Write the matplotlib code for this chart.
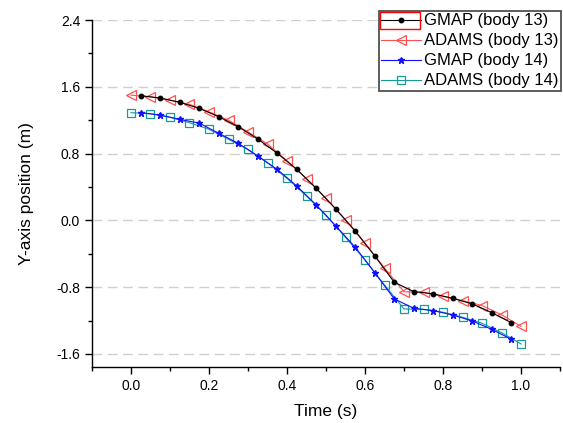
import numpy as np
import matplotlib
matplotlib.use('Agg')
import matplotlib.pyplot as plt
from matplotlib.patches import Rectangle
from matplotlib.ticker import MultipleLocator

plt.rcParams['font.family'] = ['Liberation Sans', 'DejaVu Sans']

# ADAMS samples every 0.05 s, GMAP samples offset by 0.025 s
t_adams = [0.0, 0.05, 0.1, 0.15, 0.2, 0.25, 0.3, 0.35, 0.4, 0.45, 0.5,
           0.55, 0.6, 0.65, 0.7, 0.75, 0.8, 0.85, 0.9, 0.95, 1.0]
t_gmap = [0.025, 0.075, 0.125, 0.175, 0.225, 0.275, 0.325, 0.375, 0.425,
          0.475, 0.525, 0.575, 0.625, 0.675, 0.725, 0.775, 0.825, 0.875,
          0.925, 0.975]

gmap_13 = [1.493, 1.466, 1.414, 1.342, 1.242, 1.122, 0.975, 0.804, 0.612,
           0.384, 0.137, -0.127, -0.426, -0.741, -0.853, -0.88, -0.934,
           -1.0, -1.105, -1.225]
adams_13 = [1.50, 1.48, 1.44, 1.39, 1.30, 1.20, 1.06, 0.915, 0.715, 0.50,
            0.265, 0.005, -0.275, -0.57, -0.855, -0.86, -0.91, -0.96,
            -1.02, -1.13, -1.27]
gmap_14 = [1.29, 1.262, 1.21, 1.165, 1.043, 0.923, 0.771, 0.61, 0.412,
           0.184, -0.067, -0.322, -0.627, -0.94, -1.053, -1.081, -1.133,
           -1.205, -1.305, -1.424]
adams_14 = [1.29, 1.278, 1.234, 1.17, 1.091, 0.971, 0.851, 0.691, 0.504,
            0.292, 0.064, -0.204, -0.474, -0.774, -1.061, -1.065, -1.10,
            -1.16, -1.232, -1.345, -1.48]

labels = ['GMAP (body 13)', 'ADAMS (body 13)', 'GMAP (body 14)',
          'ADAMS (body 14)']

red = '#ff5050'
teal = '#169a9a'

fig = plt.figure(figsize=(5.63, 4.23), dpi=100)
ax = fig.add_axes([0.1634, 0.1324, 0.8313, 0.8203])

ax.plot(t_gmap, gmap_13, '-', color='black', marker='o', ms=3.2, lw=0.8,
        label=labels[0], zorder=4)
ax.plot(t_adams, adams_13, '-', color=red, marker='<', ms=7, lw=0.8,
        mfc='none', mec=red, mew=0.9, label=labels[1], zorder=3)
ax.plot(t_gmap, gmap_14, '-', color='#1010ff', marker='*', ms=5, lw=0.8,
        label=labels[2], zorder=4)
ax.plot(t_adams, adams_14, '-', color=teal, marker='s', ms=5.5, lw=0.8,
        mfc='none', mec=teal, mew=0.9, label=labels[3], zorder=3)

ax.set_xlim(-0.1, 1.1)
ax.set_ylim(-1.756, 2.4)
ax.xaxis.set_minor_locator(MultipleLocator(0.1))
ax.yaxis.set_minor_locator(MultipleLocator(0.4))
ax.set_xticks(np.arange(0, 1.01, 0.2))
ax.set_xticklabels(['{:.1f}'.format(v) for v in np.arange(0, 1.01, 0.2)])
ax.set_yticks(np.arange(-1.6, 2.41, 0.8))
ax.set_yticklabels(['{:.1f}'.format(v) for v in np.arange(-1.6, 2.41, 0.8)])
ax.tick_params(which='major', direction='out', length=5, width=1,
               labelsize=10, color='black')
ax.tick_params(which='minor', direction='out', length=3, width=1,
               color='black')
for side in ['top', 'right']:
    ax.spines[side].set_visible(False)
for side in ['left', 'bottom']:
    ax.spines[side].set_linewidth(1.0)

ax.yaxis.grid(True, which='major', color='#d0d0d0', linestyle=(0, (7, 4)),
              lw=1)
ax.set_axisbelow(True)

ax.set_xlabel('Time (s)', fontsize=12.5, labelpad=8)
ax.set_ylabel('Y-axis position (m)', fontsize=12.5, labelpad=16)

leg = ax.legend(loc='upper right', bbox_to_anchor=(1.003, 1.026),
                fontsize=12, frameon=True, fancybox=False, framealpha=1,
                edgecolor='#505050', handlelength=2.4, handletextpad=0.2,
                labelspacing=0.3, borderpad=0.15, borderaxespad=0.0)
leg.get_frame().set_linewidth(1.3)

# red highlight box around the first legend handle
fig.canvas.draw()
r = fig.canvas.get_renderer()
lb = leg.get_window_extent(r)
tb = leg.get_texts()[0].get_window_extent(r)
inv = fig.transFigure.inverted()
(x0, y0) = inv.transform((lb.x0 + 1, tb.y0 - 1))
(x1, y1) = inv.transform((tb.x0 - 4, lb.y1 - 1))
fig.patches.append(Rectangle((x0, y0), x1 - x0, y1 - y0, fill=False,
                             edgecolor='red', lw=1.0,
                             transform=fig.transFigure, figure=fig,
                             zorder=10))

fig.savefig('out.png', dpi=100)
